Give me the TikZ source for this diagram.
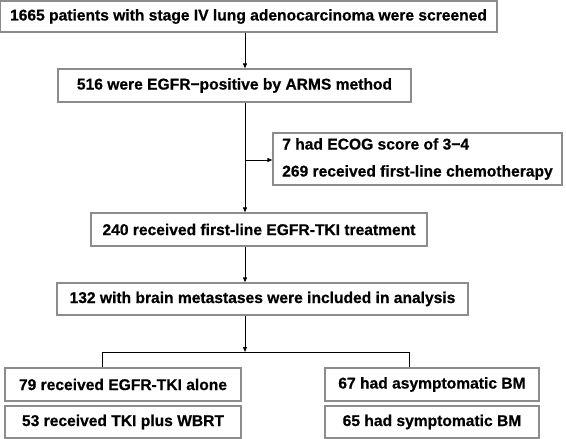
\documentclass[tikz,border=0pt]{standalone}
\usepackage{fontspec}
\setmainfont{Liberation Sans}[BoldFeatures={FakeBold=0.6}]
\usetikzlibrary{arrows.meta}
\begin{document}
\begin{tikzpicture}[x=1pt,y=-1pt,
  box/.style={draw=black!45, line width=1.3pt, rectangle, inner sep=0pt,
    font=\fontsize{15.6}{27}\selectfont\bfseries, align=left},
  arr/.style={draw=black, line width=1pt, -{Triangle[length=5pt,width=4pt]}},
  link/.style={draw=black, line width=1pt}]
\useasboundingbox (0,0) rectangle (566,439);
\node[box, minimum width=497pt, minimum height=31pt] (b1) at (248.5,16.5) {1665 patients with stage IV lung adenocarcinoma were screened};
\node[box, minimum width=353pt, minimum height=33pt] (b2) at (234.5,85.5) {516 were EGFR−positive by ARMS method};
\node[box, minimum width=289pt, minimum height=52pt] (side) at (417.5,159) {7 had ECOG score of 3−4\\269 received first-line chemotherapy};
\node[box, minimum width=336pt, minimum height=33pt] (b3) at (259,229.5) {240 received first-line EGFR-TKI treatment};
\node[box, minimum width=411pt, minimum height=32pt] (b4) at (262.5,299) {132 with brain metastases were included in analysis};
\node[box, minimum width=236pt, minimum height=33pt] (l1) at (123,384.5) {79 received EGFR-TKI alone};
\node[box, minimum width=236pt, minimum height=32pt] (l2) at (123,422) {53 received TKI plus WBRT};
\node[box, minimum width=214pt, minimum height=33pt] (r1) at (432,384.5) {67 had asymptomatic BM};
\node[box, minimum width=214pt, minimum height=32pt] (r2) at (432,422) {65 had symptomatic BM};
\coordinate (ax) at (245,0);
\coordinate (sy) at (0,160);
\coordinate (hy) at (0,352);
\coordinate (lx) at (102,0);
\coordinate (rx) at (409,0);
\draw[arr] (b1.south -| ax) -- (b2.north -| ax);
\draw[arr] (b2.south -| ax) -- (b3.north -| ax);
\draw[arr] (sy -| ax) -- (side.west |- sy);
\draw[arr] (b3.south -| ax) -- (b4.north -| ax);
\draw[arr] (b4.south -| ax) -- (hy -| ax);
\draw[link] (l1.north -| lx) -- (hy -| lx) -- (hy -| rx) -- (r1.north -| rx);
\end{tikzpicture}
\end{document}
